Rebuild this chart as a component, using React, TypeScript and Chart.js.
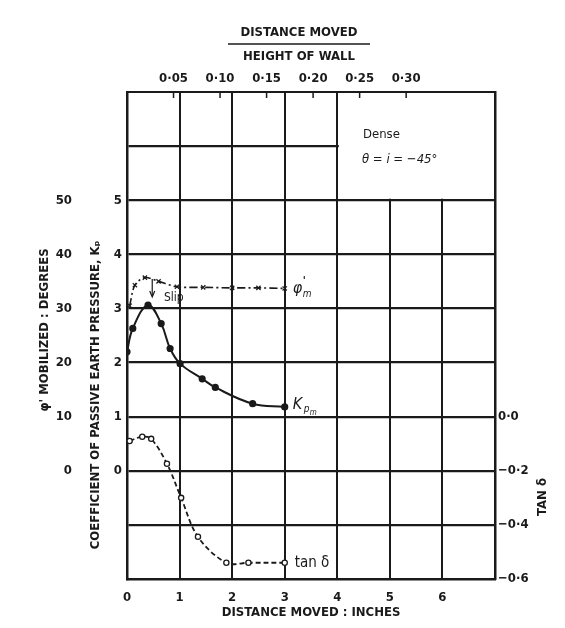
import React, { useEffect, useRef } from "react";
import { Chart, registerables } from "chart.js";

Chart.register(...registerables);

// Distance moved (inches) and values
const kpX = [0, 0.11, 0.4, 0.65, 0.82, 1.01, 1.43, 1.68, 2.39, 3.0];
const kpY = [2.2, 2.63, 3.06, 2.72, 2.26, 1.98, 1.7, 1.54, 1.24, 1.18];

const phiX = [0.05, 0.15, 0.34, 0.6, 0.95, 1.45, 2.0, 2.5, 3.0];
const phiY = [30.5, 34.3, 35.7, 35.0, 34.0, 33.9, 33.8, 33.8, 33.7];

const tanX = [0.05, 0.29, 0.46, 0.76, 1.03, 1.35, 1.89, 2.31, 3.0];
const tanY = [-0.09, -0.074, -0.082, -0.174, -0.3, -0.444, -0.54, -0.54, -0.54];

const bottomTicks = [0, 1, 2, 3, 4, 5, 6, 7];
const topTicks = [0.05, 0.1, 0.15, 0.2, 0.25, 0.3];
const topTickLabels = ["0·05", "0·10", "0·15", "0·20", "0·25", "0·30"];
const kpTicks = [-1, 0, 1, 2, 3, 4, 5, 6];
const degTicks = [0, 10, 20, 30, 40, 50];
const tanTicks = [0, -0.2, -0.4, -0.6];
const tanTickLabels = ["0·0", "−0·2", "−0·4", "−0·6"];

const WALL_HEIGHT = 17.7; // inches, ratio of top scale

const FONT = "'DejaVu Sans Condensed', 'DejaVu Sans', sans-serif";
const INK = "#1a1a1a";

const pts = (xs: number[], ys: number[]) => xs.map((x, i) => ({ x, y: ys[i] }));

const annotPlugin = {
  id: "annot",
  beforeDatasetsDraw(chart: any) {
    const { ctx, scales } = chart;
    const x = scales.x, y = scales.y;
    const l = x.getPixelForValue(4), r = x.getPixelForValue(7);
    const t = y.getPixelForValue(7), b = y.getPixelForValue(5);
    ctx.save();
    ctx.fillStyle = "#fff";
    ctx.fillRect(l + 1.5, t + 1, r - l - 2.5, b - t - 2.5);
    ctx.restore();
    // small tick marks of top scale
    const xt = scales.xTop;
    ctx.save();
    ctx.strokeStyle = INK;
    ctx.lineWidth = 1.5;
    topTicks.forEach((v) => {
      const px = xt.getPixelForValue(v);
      ctx.beginPath();
      ctx.moveTo(px, t);
      ctx.lineTo(px, t + 6);
      ctx.stroke();
    });
    ctx.restore();
  },
  afterDraw(chart: any) {
    const { ctx, scales } = chart;
    const x = scales.x, y = scales.y;
    ctx.save();
    ctx.fillStyle = INK;
    ctx.strokeStyle = INK;
    ctx.textBaseline = "middle";
    ctx.textAlign = "center";

    // top title
    ctx.font = `bold 13px ${FONT}`;
    ctx.fillText("DISTANCE MOVED", 299, 33, 138);
    ctx.fillText("HEIGHT OF WALL", 299, 57, 136);
    ctx.lineWidth = 1.5;
    ctx.beginPath();
    ctx.moveTo(228, 44);
    ctx.lineTo(370, 44);
    ctx.stroke();

    // bottom title
    ctx.fillText("DISTANCE MOVED : INCHES", 311, 613, 208);

    // left titles
    ctx.save();
    ctx.translate(45, 330);
    ctx.rotate(-Math.PI / 2);
    ctx.fillText("φ' MOBILIZED : DEGREES", 0, 0, 215);
    ctx.restore();

    ctx.save();
    ctx.translate(96, 395);
    ctx.rotate(-Math.PI / 2);
    ctx.fillText("COEFFICIENT OF PASSIVE EARTH PRESSURE, Kₚ", 0, 0, 365);
    ctx.restore();

    // right title
    ctx.save();
    ctx.translate(543, 497);
    ctx.rotate(-Math.PI / 2);
    ctx.fillText("TAN δ", 0, 0, 52);
    ctx.restore();

    // legend box
    ctx.font = `13px ${FONT}`;
    ctx.textAlign = "left";
    ctx.fillText("Dense", 363, 135);
    ctx.font = `italic 13px ${FONT}`;
    ctx.fillText("θ = i = −45°", 362, 160);

    // curve labels
    const lx = x.getPixelForValue(3) + 8;
    ctx.font = `italic 16px ${FONT}`;
    ctx.fillText("φ", lx, 289);
    ctx.font = `bold 11px ${FONT}`;
    ctx.fillText("'", lx + 10, 281);
    ctx.font = `italic 10px ${FONT}`;
    ctx.fillText("m", lx + 10, 294);

    const ky = y.getPixelForValue(1.2);
    ctx.font = `italic 16px ${FONT}`;
    ctx.fillText("K", lx, ky - 1);
    ctx.font = `italic 10px ${FONT}`;
    ctx.fillText("p", lx + 11, ky + 4);
    ctx.font = `italic 8px ${FONT}`;
    ctx.fillText("m", lx + 17, ky + 7);

    ctx.font = `15px ${FONT}`;
    ctx.fillText("tan δ", x.getPixelForValue(3) + 10, y.getPixelForValue(-1.7));

    // slip
    ctx.font = `12px ${FONT}`;
    ctx.fillText("Slip", 164, 298, 22);
    const sx = x.getPixelForValue(0.48);
    ctx.lineWidth = 1.2;
    ctx.beginPath();
    ctx.moveTo(sx, 279);
    ctx.lineTo(sx, 296);
    ctx.stroke();
    ctx.beginPath();
    ctx.moveTo(sx - 2.5, 291);
    ctx.lineTo(sx, 297);
    ctx.lineTo(sx + 2.5, 291);
    ctx.stroke();
    ctx.restore();
  },
};

export default function App() {
  const ref = useRef<HTMLCanvasElement | null>(null);
  useEffect(() => {
    if (!ref.current) return;
    const tickFont = { family: FONT, size: 13, weight: "bold" as const };
    const chart = new Chart(ref.current, {
      type: "line",
      data: {
        datasets: [
          {
            label: "Kp",
            data: pts(kpX, kpY),
            yAxisID: "y",
            borderColor: INK,
            borderWidth: 2,
            pointRadius: 2.6,
            pointBackgroundColor: INK,
            pointBorderColor: INK,
            tension: 0.4,
            fill: false,
          },
          {
            label: "phi",
            data: pts(phiX, phiY),
            yAxisID: "yDeg",
            borderColor: INK,
            borderWidth: 1.6,
            borderDash: [8, 3, 2, 3],
            pointStyle: "crossRot",
            pointRadius: 3,
            pointBorderColor: INK,
            pointBorderWidth: 1.2,
            tension: 0.3,
            fill: false,
          },
          {
            label: "tan",
            data: pts(tanX, tanY),
            yAxisID: "yTan",
            borderColor: INK,
            borderWidth: 1.8,
            borderDash: [5, 3],
            pointRadius: 2.6,
            pointBackgroundColor: "#fff",
            pointBorderColor: INK,
            pointBorderWidth: 1.3,
            tension: 0.35,
            fill: false,
          },
        ],
      },
      options: {
        responsive: false,
        animation: false,
        events: [],
        layout: { padding: 0 },
        plugins: { legend: { display: false }, tooltip: { enabled: false } },
        scales: {
          x: {
            type: "linear",
            position: "bottom",
            min: 0,
            max: 7,
            afterFit: (s: any) => { s.height = 49; },
            afterBuildTicks: (s: any) => { s.ticks = bottomTicks.map((v) => ({ value: v })); },
            grid: { color: INK, lineWidth: 2, drawTicks: false },
            border: { color: INK, width: 2.5 },
            ticks: {
              autoSkip: false,
              maxRotation: 0,
              padding: 11,
              color: INK,
              font: tickFont,
              callback: (v: any) => (v === 7 ? "" : String(v)),
            },
          },
          xTop: {
            type: "linear",
            position: "top",
            min: 0,
            max: 7 / WALL_HEIGHT,
            afterFit: (s: any) => { s.height = 92; },
            afterBuildTicks: (s: any) => { s.ticks = topTicks.map((v) => ({ value: v })); },
            grid: { display: false, drawTicks: false },
            border: { color: INK, width: 2 },
            ticks: {
              autoSkip: false,
              maxRotation: 0,
              padding: 6,
              color: INK,
              font: tickFont,
              callback: (v: any, i: number) => topTickLabels[i],
            },
          },
          y: {
            type: "linear",
            position: "left",
            weight: 0,
            min: -2,
            max: 7,
            afterFit: (s: any) => { s.width = 47; },
            afterBuildTicks: (s: any) => { s.ticks = kpTicks.map((v) => ({ value: v })); },
            grid: { color: INK, lineWidth: 2.2, drawTicks: false },
            border: { color: INK, width: 2.5 },
            ticks: {
              autoSkip: false,
              padding: 5,
              color: INK,
              font: tickFont,
              callback: (v: any) => (v >= 0 && v <= 5 ? String(v) : ""),
            },
          },
          yDeg: {
            type: "linear",
            position: "left",
            weight: 1,
            min: -20,
            max: 70,
            afterFit: (s: any) => { s.width = 80; },
            afterBuildTicks: (s: any) => { s.ticks = degTicks.map((v) => ({ value: v })); },
            grid: { display: false, drawTicks: false },
            border: { display: false },
            ticks: {
              autoSkip: false,
              padding: 8,
              color: INK,
              font: tickFont,
              callback: (v: any) => String(v),
            },
          },
          yTan: {
            type: "linear",
            position: "right",
            min: -0.6,
            max: 1.2,
            afterFit: (s: any) => { s.width = 70; },
            afterBuildTicks: (s: any) => { s.ticks = tanTicks.map((v) => ({ value: v })); },
            grid: { display: false, drawTicks: false },
            border: { color: INK, width: 2.5 },
            ticks: {
              autoSkip: false,
              padding: 3,
              color: INK,
              font: tickFont,
              callback: (v: any, i: number) => tanTickLabels[i],
            },
          },
        },
      },
      plugins: [annotPlugin],
    });
    return () => chart.destroy();
  }, []);

  return (
    <div style={{ position: "absolute", left: 0, top: 0, width: 565, height: 628, background: "#fff" }}>
      <canvas ref={ref} width={565} height={628} style={{ display: "block" }} />
    </div>
  );
}
